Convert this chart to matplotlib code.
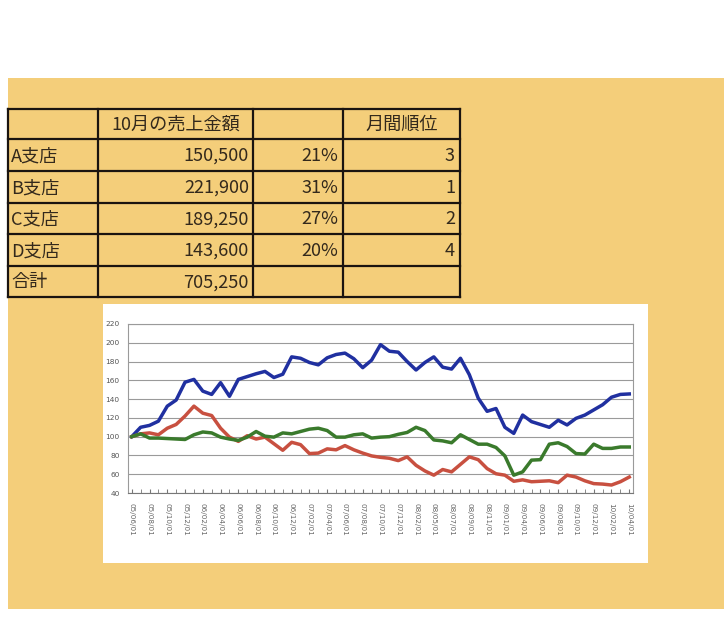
import matplotlib
matplotlib.use("Agg")
import matplotlib.pyplot as plt
from matplotlib.patches import Rectangle

plt.rcParams['font.family'] = ['Noto Sans CJK JP', 'DejaVu Sans']

# ---- table data ----
header = ["", "10月の売上金額", "", "月間順位"]
branches = ["A支店", "B支店", "C支店", "D支店", "合計"]
sales = ["150,500", "221,900", "189,250", "143,600", "705,250"]
shares = ["21%", "31%", "27%", "20%", ""]
ranks = ["3", "1", "2", "4", ""]

# ---- chart data ----
date_labels = ["05/06/01", "05/08/01", "05/10/01", "05/12/01", "06/02/01", "06/04/01",
               "06/06/01", "06/08/01", "06/10/01", "06/12/01", "07/02/01", "07/04/01",
               "07/06/01", "07/08/01", "07/10/01", "07/12/01", "08/02/01", "08/05/01",
               "08/07/01", "08/09/01", "08/11/01", "09/01/01", "09/04/01", "09/06/01",
               "09/08/01", "09/10/01", "09/12/01", "10/02/01", "10/04/01"]

blue = [100, 110, 112, 116.5, 132.5, 139, 158, 161, 148.5, 145, 157.5, 143, 161, 164, 167,
        169.5, 163, 166.5, 185, 183.5, 179, 176.5, 184, 187.5, 189, 183, 173.5, 181.5,
        198, 191, 190, 180, 171, 179, 185, 174, 172, 183.5, 166, 141, 127, 130, 110,
        103.5, 123, 116, 113, 110, 117.5, 112.5, 119.5, 123, 128.5, 134, 142, 145, 145.5]
red = [100, 103, 104, 102, 109, 113, 122, 132.5, 125, 122.5, 109, 99.5, 95, 101, 97.5,
       99.5, 92.5, 85.5, 94, 91.5, 82, 82.5, 87, 86, 90.5, 86, 82.5, 79.5,
       78, 77, 74.5, 78.5, 69.5, 63.5, 59, 65, 62.5, 70.5, 78.5, 75.5, 66, 60.5, 59,
       52.5, 54, 52, 52.5, 53, 51, 59, 57, 53, 50, 49.5, 48.5, 52, 57]
green = [100, 103, 98.5, 98.5, 98, 97.5, 97, 102, 105, 104, 99.5, 97.5, 96, 99.5, 105.5,
         100.5, 99.5, 104, 103, 105.5, 108, 109, 106.5, 99.5, 99.5, 102, 103, 98.5,
         99.5, 100, 102.5, 104.5, 110, 106.5, 96.5, 95.5, 93.5, 102, 97, 92, 92, 88.5,
         79.5, 59, 62.5, 75, 75.5, 92, 93.5, 89.5, 82, 81.5, 92, 87.5, 87.5, 89, 89]

W, H = 724, 633
fig = plt.figure(figsize=(W / 100, H / 100), dpi=100)
fig.patch.set_facecolor("white")

bg = fig.add_axes([0, 0, 1, 1])
bg.set_xlim(0, W)
bg.set_ylim(H, 0)
bg.axis("off")

# orange panel
bg.add_patch(Rectangle((8, 78), W - 8, 609 - 78, facecolor="#F4CE7A", edgecolor="none"))

# table
col_x = [8, 98, 253, 343, 460]
row_y = [109, 139, 171, 203, 234, 266, 297]
lc = "#1a1410"
for x in col_x:
    bg.plot([x, x], [row_y[0], row_y[-1]], color=lc, lw=1.6, solid_capstyle="projecting")
for y in row_y:
    bg.plot([col_x[0], col_x[-1]], [y, y], color=lc, lw=1.6, solid_capstyle="projecting")

tc = "#33291c"
fs = 13.1
def cy(i):
    return (row_y[i] + row_y[i + 1]) / 2 + 1

bg.text((col_x[1] + col_x[2]) / 2, cy(0), header[1], ha="center", va="center", fontsize=fs, color=tc)
bg.text((col_x[3] + col_x[4]) / 2, cy(0), header[3], ha="center", va="center", fontsize=fs, color=tc)
for i in range(5):
    r = i + 1
    bg.text(col_x[0] + 3, cy(r), branches[i], ha="left", va="center", fontsize=fs, color=tc)
    bg.text(col_x[2] - 4, cy(r), sales[i], ha="right", va="center", fontsize=fs, color=tc)
    bg.text(col_x[3] - 5, cy(r), shares[i], ha="right", va="center", fontsize=fs, color=tc)
    bg.text(col_x[4] - 5, cy(r), ranks[i], ha="right", va="center", fontsize=fs, color=tc)

# chart white box
bg.add_patch(Rectangle((103, 304), 648 - 103, 563 - 304, facecolor="white", edgecolor="none"))

# chart axes
L, R, T, B = 128, 633, 324, 493
ax = fig.add_axes([L / W, 1 - B / H, (R - L) / W, (B - T) / H])
ax.set_facecolor("white")
n = len(blue)
xs = list(range(n))
ax.plot(xs, blue, color="#2030A0", lw=2.5)
ax.plot(xs, red, color="#C85040", lw=2.5)
ax.plot(xs, green, color="#3A7A2C", lw=2.5)
ax.set_xlim(-0.42, n - 1 + 0.42)
ax.set_ylim(40, 220)
ax.set_yticks(range(40, 221, 20))
ax.yaxis.grid(True, color="#9a9a9a", lw=0.8)
ax.set_axisbelow(True)
ax.set_xticks(range(0, n, 2))
ax.set_xticklabels(date_labels, rotation=-90, fontsize=5.2, color="#666666", family="DejaVu Sans")
ax.set_xticks(range(n), minor=True)
ax.tick_params(axis="x", which="both", direction="in", length=3, color="#777777", pad=7)
ax.tick_params(axis="y", length=0, labelsize=5.3, labelcolor="#555555", pad=6)
for lab in ax.get_yticklabels():
    lab.set_family("DejaVu Sans")
for s in ax.spines.values():
    s.set_color("#9a9a9a")
    s.set_linewidth(0.8)
ax.spines["bottom"].set_color("#777777")

fig.savefig("out.png", dpi=100, facecolor=fig.get_facecolor())
